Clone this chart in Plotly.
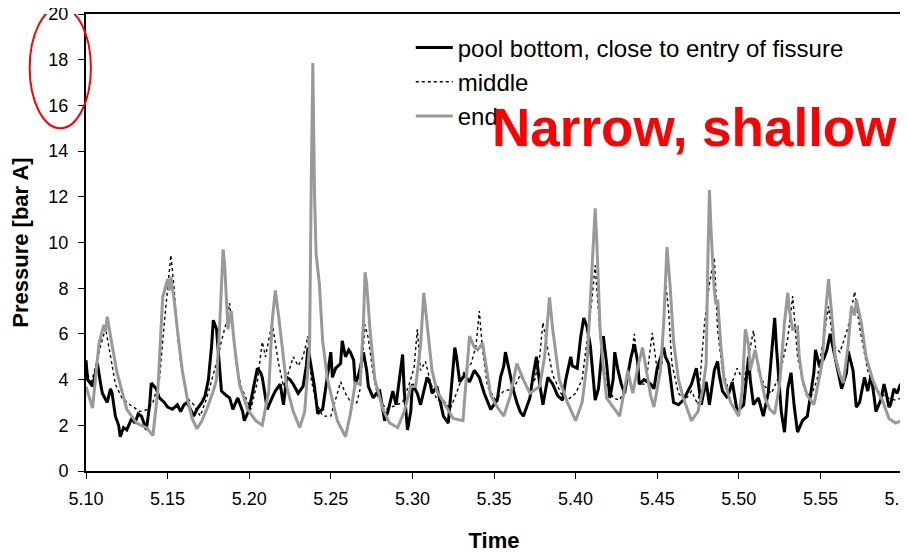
import plotly.graph_objects as go

# pool bottom, close to entry of fissure (solid black)
pool_t = [5.100, 5.101, 5.104, 5.106, 5.107, 5.109, 5.110, 5.113, 5.115, 5.116, 5.118, 5.120, 5.121, 5.123,
          5.125, 5.128, 5.130, 5.132, 5.134, 5.136, 5.137, 5.139, 5.140, 5.143, 5.145, 5.148, 5.150, 5.153,
          5.156, 5.158, 5.160, 5.162, 5.164, 5.166, 5.168, 5.171, 5.173, 5.175, 5.177, 5.178, 5.180, 5.181,
          5.182, 5.183, 5.186, 5.188, 5.190, 5.192, 5.193, 5.196, 5.197, 5.200, 5.203, 5.205, 5.207, 5.208,
          5.210, 5.211, 5.214, 5.216, 5.219, 5.221, 5.223, 5.225, 5.227, 5.230, 5.233, 5.235, 5.236, 5.238,
          5.240, 5.242, 5.243, 5.245, 5.247, 5.250, 5.251, 5.253, 5.256, 5.257, 5.259, 5.261, 5.262, 5.264,
          5.265, 5.267, 5.268, 5.270, 5.272, 5.273, 5.276, 5.278, 5.280, 5.283, 5.285, 5.288, 5.290, 5.292,
          5.294, 5.295, 5.296, 5.297, 5.299, 5.300, 5.303, 5.305, 5.307, 5.309, 5.311, 5.312, 5.315, 5.317,
          5.319, 5.322, 5.324, 5.326, 5.327, 5.329, 5.332, 5.335, 5.338, 5.341, 5.344, 5.348, 5.350, 5.352,
          5.354, 5.356, 5.357, 5.360, 5.362, 5.364, 5.366, 5.368, 5.370, 5.372, 5.374, 5.376, 5.378, 5.380,
          5.383, 5.386, 5.389, 5.392, 5.394, 5.397, 5.398, 5.401, 5.403, 5.405, 5.407, 5.409, 5.410, 5.412,
          5.414, 5.415, 5.417, 5.419, 5.421, 5.423, 5.424, 5.426, 5.428, 5.430, 5.432, 5.434, 5.436, 5.438,
          5.439, 5.442, 5.446, 5.448, 5.450, 5.454, 5.455, 5.457, 5.460, 5.463, 5.466, 5.468, 5.471, 5.474,
          5.477, 5.479, 5.480, 5.482, 5.485, 5.487, 5.488, 5.490, 5.493, 5.496, 5.499, 5.503, 5.506, 5.507,
          5.509, 5.512, 5.515, 5.518, 5.520, 5.522, 5.523, 5.524, 5.526, 5.528, 5.530, 5.532, 5.534, 5.536,
          5.539, 5.542, 5.546, 5.547, 5.549, 5.552, 5.554, 5.556, 5.559, 5.561, 5.563, 5.566, 5.567, 5.570,
          5.572, 5.574, 5.577, 5.579, 5.581, 5.583, 5.584, 5.587, 5.589, 5.590, 5.592, 5.593, 5.595, 5.597,
          5.599, 5.600]
pool_p = [4.85, 4.0, 3.7, 4.3, 4.7, 3.8, 3.4, 3.0, 3.6, 3.4, 2.4, 2.0, 1.5, 1.9,
          1.8, 2.3, 2.1, 2.5, 2.4, 2.0, 1.8, 2.9, 3.85, 3.6, 3.2, 3.0, 2.8, 2.7,
          2.9, 2.6, 2.9, 3.0, 2.7, 2.4, 2.7, 3.0, 3.3, 4.0, 5.5, 6.6, 6.2, 5.4,
          4.3, 3.5, 3.3, 3.2, 2.7, 3.0, 3.2, 2.6, 2.2, 2.7, 3.8, 4.5, 4.3, 4.1,
          3.2, 2.7, 3.2, 3.5, 3.8, 2.9, 4.1, 4.0, 3.8, 3.4, 3.7, 4.6, 5.4, 4.5,
          3.7, 2.5, 2.6, 2.7, 3.8, 5.2, 4.1, 4.5, 4.7, 5.7, 5.0, 5.3, 5.2, 4.85,
          3.8, 4.2, 4.5, 5.2, 4.4, 3.7, 3.2, 3.4, 3.5, 2.2, 2.6, 3.5, 2.9, 4.0,
          5.1, 3.5, 2.5, 1.8, 2.6, 3.8, 3.4, 2.9, 3.5, 4.1, 3.8, 3.4, 3.7, 3.0,
          2.4, 2.1, 3.6, 5.4, 5.0, 3.9, 4.2, 3.9, 4.4, 4.1, 3.4, 2.7, 2.9, 3.1,
          4.1, 4.6, 5.2, 4.1, 3.5, 3.0, 2.6, 2.4, 2.8, 3.2, 4.2, 5.0, 3.8, 2.9,
          4.1, 3.8, 3.3, 3.1, 4.0, 5.0, 4.6, 4.5, 5.8, 6.7, 6.3, 5.5, 4.7, 3.1,
          3.6, 4.4, 5.9, 4.7, 3.2, 4.0, 5.2, 4.4, 3.8, 3.4, 4.2, 5.0, 5.55, 4.8,
          3.8, 4.0, 3.8, 3.6, 4.5, 5.4, 5.0, 4.7, 3.0, 2.9, 3.1, 3.4, 3.8, 4.5,
          2.9, 3.6, 3.9, 2.9, 4.4, 4.8, 4.2, 3.5, 3.2, 3.9, 2.6, 2.9, 5.0, 4.0,
          2.9, 3.2, 2.4, 3.4, 5.0, 6.7, 5.5, 4.4, 2.6, 1.7, 3.6, 4.3, 2.8, 1.7,
          2.2, 2.4, 4.3, 5.3, 4.7, 4.9, 5.3, 6.0, 5.0, 4.3, 3.6, 4.3, 5.25, 4.4,
          2.8, 3.0, 4.1, 3.5, 4.2, 3.2, 2.6, 3.1, 3.8, 3.5, 2.8, 2.9, 3.6, 3.4,
          3.8, 3.7]

# middle (dotted black)
mid_t = [5.100, 5.103, 5.106, 5.109, 5.112, 5.115, 5.118, 5.122, 5.127, 5.133, 5.138, 5.141, 5.145, 5.148,
         5.150, 5.152, 5.154, 5.156, 5.158, 5.162, 5.166, 5.170, 5.174, 5.178, 5.181, 5.183, 5.186, 5.188,
         5.190, 5.192, 5.195, 5.198, 5.201, 5.205, 5.208, 5.210, 5.214, 5.218, 5.221, 5.224, 5.227, 5.230,
         5.233, 5.236, 5.238, 5.241, 5.245, 5.250, 5.253, 5.256, 5.259, 5.263, 5.266, 5.268, 5.271, 5.273,
         5.276, 5.279, 5.284, 5.290, 5.294, 5.298, 5.301, 5.303, 5.305, 5.308, 5.311, 5.315, 5.319, 5.323,
         5.327, 5.332, 5.336, 5.339, 5.341, 5.343, 5.346, 5.351, 5.356, 5.362, 5.366, 5.371, 5.375, 5.378,
         5.380, 5.383, 5.386, 5.391, 5.395, 5.400, 5.404, 5.408, 5.410, 5.412, 5.414, 5.416, 5.419, 5.423,
         5.427, 5.431, 5.434, 5.436, 5.439, 5.443, 5.447, 5.450, 5.453, 5.455, 5.457, 5.459, 5.463, 5.467,
         5.471, 5.475, 5.479, 5.482, 5.485, 5.487, 5.490, 5.494, 5.499, 5.503, 5.506, 5.509, 5.512, 5.516,
         5.520, 5.525, 5.530, 5.533, 5.536, 5.540, 5.544, 5.548, 5.551, 5.555, 5.558, 5.562, 5.567, 5.571,
         5.574, 5.579, 5.583, 5.587, 5.591, 5.596, 5.600]
mid_p = [4.5, 3.8, 4.6, 5.5, 6.25, 5.0, 3.8, 3.2, 2.9, 2.6, 2.7, 3.0, 4.0, 6.5,
         8.0, 9.45, 8.0, 6.0, 4.7, 3.2, 2.9, 2.4, 3.2, 4.3, 5.0, 5.7, 6.5, 7.35,
         6.0, 4.7, 3.7, 3.2, 2.7, 3.9, 5.65, 5.0, 6.5, 4.7, 3.7, 4.3, 5.0, 4.6,
         5.0, 5.9, 4.0, 3.0, 2.4, 2.4, 3.2, 3.9, 3.4, 2.9, 3.0, 3.6, 6.4, 5.8,
         4.2, 3.2, 2.7, 2.9, 3.0, 3.8, 4.5, 6.2, 4.4, 4.8, 3.9, 3.1, 3.1, 2.7,
         3.4, 4.4, 4.7, 5.5, 7.0, 5.3, 3.7, 3.1, 3.5, 3.6, 4.2, 3.6, 4.0, 5.0,
         6.5, 5.3, 4.2, 3.4, 3.1, 3.4, 4.0, 6.3, 7.5, 9.0, 7.0, 5.0, 3.8, 3.2,
         3.1, 3.7, 5.0, 6.0, 3.8, 3.8, 6.05, 4.4, 4.7, 8.35, 7.0, 4.7, 3.4, 3.1,
         3.5, 2.9, 6.45, 8.2, 9.35, 6.2, 4.4, 3.5, 4.5, 3.9, 5.0, 6.15, 4.4, 3.7,
         3.4, 4.2, 5.8, 7.65, 5.0, 3.6, 3.2, 4.0, 5.4, 7.2, 5.5, 5.2, 6.3, 7.85,
         6.3, 4.4, 3.6, 3.4, 3.2, 3.1, 3.2]

# end (solid grey)
end_t = [5.100, 5.104, 5.108, 5.111, 5.112, 5.113, 5.116, 5.119, 5.125, 5.131, 5.137, 5.141, 5.144, 5.147,
         5.150, 5.151, 5.152, 5.154, 5.156, 5.159, 5.162, 5.165, 5.168, 5.171, 5.174, 5.178, 5.180, 5.182,
         5.184, 5.185, 5.187, 5.189, 5.191, 5.194, 5.199, 5.204, 5.208, 5.212, 5.214, 5.216, 5.218, 5.221,
         5.223, 5.227, 5.231, 5.234, 5.237, 5.238, 5.239, 5.240, 5.241, 5.243, 5.245, 5.248, 5.251, 5.254,
         5.259, 5.262, 5.265, 5.268, 5.270, 5.271, 5.272, 5.274, 5.277, 5.282, 5.286, 5.291, 5.295, 5.299,
         5.302, 5.305, 5.307, 5.310, 5.312, 5.315, 5.319, 5.325, 5.331, 5.333, 5.335, 5.338, 5.340, 5.343,
         5.346, 5.348, 5.352, 5.356, 5.360, 5.364, 5.368, 5.372, 5.378, 5.381, 5.384, 5.386, 5.390, 5.395,
         5.400, 5.404, 5.407, 5.410, 5.412, 5.413, 5.415, 5.417, 5.419, 5.423, 5.427, 5.430, 5.432, 5.435,
         5.438, 5.441, 5.443, 5.446, 5.448, 5.450, 5.452, 5.454, 5.456, 5.458, 5.460, 5.463, 5.466, 5.471,
         5.475, 5.478, 5.480, 5.481, 5.482, 5.483, 5.485, 5.486, 5.487, 5.489, 5.491, 5.495, 5.500, 5.502,
         5.504, 5.506, 5.507, 5.510, 5.513, 5.516, 5.519, 5.522, 5.525, 5.528, 5.530, 5.531, 5.533, 5.536,
         5.537, 5.539, 5.542, 5.546, 5.548, 5.551, 5.553, 5.555, 5.557, 5.559, 5.562, 5.564, 5.567, 5.569,
         5.571, 5.572, 5.575, 5.578, 5.582, 5.585, 5.588, 5.592, 5.596, 5.600]
end_p = [3.7, 2.75, 5.6, 6.4, 6.1, 6.75, 5.5, 4.3, 2.7, 2.1, 1.9, 1.55, 3.5, 7.6,
         8.4, 7.9, 8.5, 7.5, 6.2, 4.4, 3.2, 2.3, 1.85, 2.2, 2.7, 3.5, 4.0, 6.5,
         9.7, 9.0, 6.2, 7.0, 5.5, 3.8, 2.7, 2.2, 2.0, 3.5, 6.5, 7.9, 6.8, 4.8,
         3.7, 2.6, 1.9, 2.6, 5.5, 12.5, 17.85, 12.2, 9.5, 8.2, 5.7, 4.0, 3.1, 2.2,
         1.5, 2.5, 3.85, 3.8, 6.5, 8.7, 8.2, 6.2, 4.0, 2.7, 2.1, 1.9, 2.6, 3.7,
         3.7, 5.5, 7.8, 5.8, 4.4, 3.5, 3.0, 2.3, 2.2, 4.0, 5.9, 5.4, 5.3, 5.6,
         4.3, 3.3, 2.8, 2.4, 3.3, 4.7, 4.0, 3.4, 3.7, 5.0, 7.6, 6.2, 4.0, 3.0,
         2.2, 3.0, 4.7, 8.8, 11.5, 10.0, 6.2, 4.5, 3.2, 2.8, 2.4, 3.6, 4.4, 3.4,
         4.5, 5.4, 4.6, 3.3, 2.8, 3.6, 4.4, 6.5, 9.8, 8.0, 5.7, 4.0, 3.2, 2.2,
         2.6, 3.6, 4.7, 9.0, 12.3, 10.5, 7.9, 7.3, 7.5, 5.5, 4.0, 3.0, 2.4, 3.5,
         6.2, 5.5, 4.4, 5.3, 4.2, 3.2, 2.7, 2.5, 3.8, 6.5, 7.8, 7.0, 6.2, 6.3,
         5.0, 4.0, 3.3, 2.9, 3.6, 4.7, 6.8, 8.4, 6.8, 5.0, 4.2, 3.85, 5.5, 7.2,
         6.8, 7.5, 6.5, 5.0, 4.0, 3.5, 3.1, 2.3, 2.1, 2.2]

x_ticks = [5.10, 5.15, 5.20, 5.25, 5.30, 5.35, 5.40, 5.45, 5.50, 5.55, 5.60]
y_ticks = list(range(0, 21, 2))

FONT = "Liberation Sans, Arial, sans-serif"

fig = go.Figure()
fig.add_trace(go.Scatter(x=pool_t, y=pool_p, mode="lines",
                         line=dict(color="black", width=3),
                         name="pool bottom, close to entry of fissure", legendgroup="a"))
fig.add_trace(go.Scatter(x=mid_t, y=mid_p, mode="lines",
                         line=dict(color="black", width=1.4, dash="dot"),
                         name="middle", legendgroup="b"))
fig.add_trace(go.Scatter(x=end_t, y=end_p, mode="lines",
                         line=dict(color="#999999", width=3),
                         name="end", legendgroup="c"))

axis_common = dict(showline=True, linecolor="black", linewidth=2, mirror=True,
                   ticks="outside", ticklen=6, tickwidth=1.2, tickcolor="black",
                   showgrid=False, zeroline=False, automargin=False,
                   ticklabeloverflow="allow",
                   tickfont=dict(family=FONT, size=18, color="black"))
fig.update_xaxes(range=[5.10, 5.60], tickvals=x_ticks, tickformat=".2f",
                 title=dict(text="<b>Time</b>", font=dict(family=FONT, size=22, color="black"),
                            standoff=25),
                 ticklabelstandoff=4, **axis_common)
fig.update_yaxes(range=[0, 20], tickvals=y_ticks,
                 title=dict(text="<b>Pressure [bar A]</b>", font=dict(family=FONT, size=22, color="black"),
                            standoff=14),
                 ticklabelstandoff=6, **axis_common)

# red highlight ellipse around the upper y tick labels
fig.add_shape(type="circle", xref="paper", yref="y",
              x0=-0.069, x1=0.006, y0=15.0, y1=20.3,
              line=dict(color="red", width=2), layer="above")

fig.add_annotation(text="<b>Narrow, shallow</b>", xref="paper", yref="y",
                   x=0.746, y=15.05, xanchor="center", yanchor="middle", showarrow=False,
                   font=dict(family=FONT, size=53, color="red"))

# the page body adds an 8px offset, so the figure is sized to fit the window
fig.update_layout(
    width=900, height=545,
    margin=dict(l=78, r=6, t=6, b=82),
    paper_bgcolor="white", plot_bgcolor="white",
    font=dict(family=FONT, color="black"),
    legend=dict(x=0.398, y=0.975, xanchor="left", yanchor="top",
                bgcolor="rgba(0,0,0,0)", font=dict(family=FONT, size=24, color="black"),
                traceorder="grouped", tracegroupgap=0, itemwidth=37),
)

fig.write_html("out.html")
